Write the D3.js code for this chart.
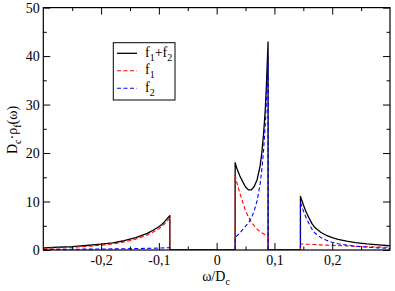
<!DOCTYPE html>
<html><head><meta charset="utf-8">
<script src="https://cdn.jsdelivr.net/npm/d3@7"></script>
<style>
html,body{margin:0;padding:0;background:#fff;}
svg text{font-family:"Liberation Serif","DejaVu Serif",serif !important;fill:#000;}
</style></head>
<body><svg id="c" width="395" height="291"></svg>
<script>
// ---- data ----
const negOmega = [-0.3,-0.275,-0.25,-0.225,-0.2,-0.18,-0.16,-0.14,-0.12,-0.11,-0.1,-0.095,-0.09,-0.085,-0.081];
const negF1    = [0.35,0.45,0.55,0.75,1.0,1.25,1.65,2.25,3.1,3.7,4.4,4.85,5.4,6.1,6.6];
const negF2    = [0.1,0.12,0.15,0.18,0.2,0.23,0.26,0.3,0.34,0.37,0.4,0.42,0.44,0.47,0.5];

const midOmega = [0.032,0.035,0.04,0.045,0.05,0.055,0.06,0.065,0.07,0.075,0.078,0.081,0.084,0.086,0.088,0.089];
const midF1    = [15.4,13.9,11.8,9.9,8.1,6.8,5.8,5.0,4.3,3.8,3.55,3.35,3.15,3.05,2.95,2.9];
const midF2    = [2.6,2.9,3.5,4.2,4.9,5.6,6.6,8.1,10.2,13.4,16.3,20.3,25.5,30.5,37.0,40.0];

const rightOmega = [0.145,0.148,0.15,0.155,0.16,0.165,0.17,0.18,0.19,0.2,0.21,0.225,0.24,0.26,0.28,0.3];
const rightF1    = [1.25,1.24,1.23,1.2,1.18,1.15,1.12,1.06,1.0,0.95,0.9,0.83,0.76,0.68,0.61,0.55];
const rightF2    = [9.8,8.8,8.1,6.6,5.4,4.3,3.5,2.6,2.0,1.6,1.3,1.0,0.78,0.58,0.44,0.33];

const xTicks = [-0.2,-0.1,0,0.1,0.2];
const xTickLabels = ["-0,2","-0,1","0","0,1","0,2"];
const xMinor = [-0.25,-0.15,-0.05,0.05,0.15,0.25];
const yTicks = [0,10,20,30,40,50];
const yMinor = [5,15,25,35,45];

const seriesNames = ["f1+f2","f1","f2"];
const seriesColors = ["#000000","#ff0000","#0000ff"];

// ---- build full polylines (zero between bands, vertical jumps at edges) ----
function build(which){
  const pts=[];
  const segs=[[negOmega,negF1,negF2],[midOmega,midF1,midF2],[rightOmega,rightF1,rightF2]];
  segs.forEach((s,i)=>{
    const [om,a,b]=s;
    const val=j=> which===0 ? a[j]+b[j] : (which===1? a[j] : b[j]);
    if(i>0) pts.push([om[0],0]);
    om.forEach((w,j)=>pts.push([w,val(j)]));
    if(i<segs.length-1) pts.push([om[om.length-1],0]);
  });
  return pts;
}

const FONT='"Liberation Serif","DejaVu Serif",serif';
const svg=d3.select("#c");
const L=43.3,R=390,T=7.6,B=250;
const x=d3.scaleLinear().domain([-0.3,0.3]).range([L,R]);
const y=d3.scaleLinear().domain([0,50]).range([B,T]);

svg.append("clipPath").attr("id","cp").append("rect")
  .attr("x",L).attr("y",T).attr("width",R-L).attr("height",B-T);

const line=d3.line().x(d=>x(d[0])).y(d=>y(d[1]));
const g=svg.append("g").attr("clip-path","url(#cp)");
[0,1,2].forEach(k=>{
  g.append("path").datum(build(k)).attr("d",line)
   .attr("fill","none").attr("stroke",seriesColors[k])
   .attr("stroke-width",k===0?1.3:1.1)
   .attr("stroke-dasharray",k===0?null:"4,2.5")
   .attr("stroke-linejoin","round");
});

// frame
svg.append("rect").attr("x",L).attr("y",T).attr("width",R-L).attr("height",B-T)
  .attr("fill","none").attr("stroke","#000").attr("stroke-width",1.2);

// axes with inward ticks
svg.append("g").attr("transform",`translate(0,${B})`)
  .call(d3.axisBottom(x).tickValues(xTicks).tickSize(-7).tickPadding(5).tickFormat((d,i)=>xTickLabels[i]));
svg.append("g").attr("transform",`translate(0,${B})`)
  .call(d3.axisBottom(x).tickValues(xMinor).tickSize(-3.5).tickFormat(""));
svg.append("g").attr("transform",`translate(0,${T})`)
  .call(d3.axisTop(x).tickValues(xTicks).tickSize(-7).tickFormat(""));
svg.append("g").attr("transform",`translate(0,${T})`)
  .call(d3.axisTop(x).tickValues(xMinor).tickSize(-3.5).tickFormat(""));
svg.append("g").attr("transform",`translate(${L},0)`)
  .call(d3.axisLeft(y).tickValues(yTicks).tickSize(-7).tickPadding(3.5).tickFormat(d3.format("d")));
svg.append("g").attr("transform",`translate(${L},0)`)
  .call(d3.axisLeft(y).tickValues(yMinor).tickSize(-3.5).tickFormat(""));
svg.append("g").attr("transform",`translate(${R},0)`)
  .call(d3.axisRight(y).tickValues(yTicks).tickSize(-7).tickFormat(""));
svg.append("g").attr("transform",`translate(${R},0)`)
  .call(d3.axisRight(y).tickValues(yMinor).tickSize(-3.5).tickFormat(""));
svg.selectAll(".domain").remove();
svg.selectAll("g").attr("font-family",null);
svg.selectAll(".tick line").attr("stroke","#000").attr("stroke-width",1);
svg.selectAll(".tick text").style("font-family",FONT).attr("font-size",14).attr("fill","#000");

// axis titles
const xt=svg.append("text").attr("x",216).attr("y",281).attr("text-anchor","middle").attr("font-size",14).style("font-family",FONT);
xt.append("tspan").text("ω/D");
xt.append("tspan").attr("font-size",10).attr("dy",4).text("c");

const yt=svg.append("text").attr("transform","translate(17,130) rotate(-90)").attr("text-anchor","middle").attr("font-size",14).style("font-family",FONT);
yt.append("tspan").text("D");
yt.append("tspan").attr("font-size",10).attr("dy",4).text("c");
yt.append("tspan").attr("dy",-4).text("·ρ");
yt.append("tspan").attr("font-size",10).attr("dy",4).text("f");
yt.append("tspan").attr("dy",-4).text("(ω)");

// legend
const lg=svg.append("g");
lg.append("rect").attr("x",113.3).attr("y",42.7).attr("width",61.7).attr("height",57.3)
  .attr("fill","#fff").attr("stroke","#000").attr("stroke-width",1);
const ly=[53.3,70.7,88.3];
seriesNames.forEach((n,i)=>{
  lg.append("line").attr("x1",117).attr("x2",137).attr("y1",ly[i]).attr("y2",ly[i])
    .attr("stroke",seriesColors[i]).attr("stroke-width",i===0?1.3:1.1)
    .attr("stroke-dasharray",i===0?null:"4,2.5");
  const t=lg.append("text").attr("x",145).attr("y",ly[i]+3.5).attr("font-size",14).style("font-family",FONT);
  if(i===0){
    t.append("tspan").text("f");
    t.append("tspan").attr("font-size",10).attr("dy",4).text("1");
    t.append("tspan").attr("dy",-4).text("+f");
    t.append("tspan").attr("font-size",10).attr("dy",4).text("2");
  } else {
    t.append("tspan").text("f");
    t.append("tspan").attr("font-size",10).attr("dy",4).text(String(i));
  }
});
</script></body></html>
